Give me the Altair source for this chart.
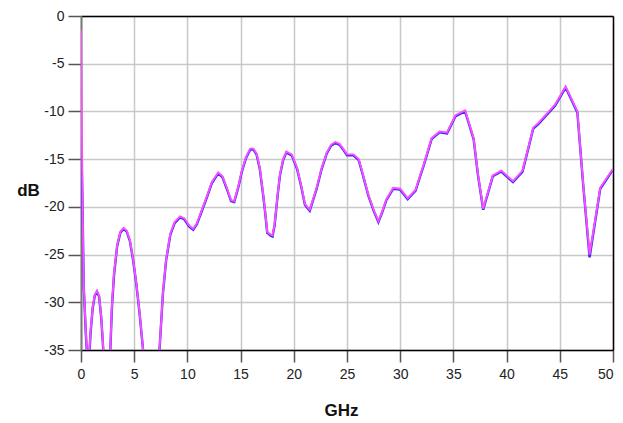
import altair as alt
import pandas as pd

freq = [0.0, 0.15, 0.25, 0.45, 0.65, 0.75, 0.9, 1.1, 1.3, 1.5, 1.7, 1.9, 2.05, 2.2, 2.5, 2.75,
        2.9, 3.1, 3.4, 3.7, 4.0, 4.3, 4.6, 4.9, 5.2, 5.5, 5.8, 6.0, 6.6, 7.2, 7.4, 7.7,
        8.0, 8.4, 8.8, 9.3, 9.7, 10.2, 10.55, 10.9, 11.4, 11.8, 12.3, 12.9, 13.3, 13.7,
        14.1, 14.4, 14.8, 15.1, 15.5, 15.9, 16.2, 16.5, 16.8, 17.1, 17.3, 17.5, 17.8, 18.0,
        18.2, 18.5, 18.7, 19.0, 19.3, 19.8, 20.3, 20.7, 21.05, 21.5, 22.15, 22.6, 23.1, 23.5,
        23.9, 24.3, 24.7, 25.0, 25.6, 26.1, 26.5, 27.0, 27.5, 27.95, 28.3, 28.7, 29.35, 30.0,
        30.7, 31.45, 31.9, 32.2, 32.95, 33.7, 34.4, 35.2, 36.1, 36.9, 37.3, 37.8, 38.7, 39.5,
        40.6, 41.5, 42.5, 43.0, 44.55, 45.55, 46.65, 47.2, 47.8, 48.8, 50.0]

s_magenta = [-1.5, -20.0, -28.0, -33.0, -37.0, -36.0, -33.0, -30.5, -29.2, -28.8, -29.3, -31.5, -34.0, -37.0, -40.0, -35.0,
             -30.5, -27.0, -24.0, -22.6, -22.2, -22.5, -23.5, -25.5, -28.0, -31.0, -34.5, -37.0, -45.0, -37.0, -34.5, -29.0,
             -25.5, -22.8, -21.6, -21.0, -21.2, -22.0, -22.3, -21.7, -20.2, -19.0, -17.4, -16.4, -16.8, -18.0,
             -19.3, -19.4, -17.8, -16.3, -14.8, -13.9, -13.9, -14.4, -15.9, -18.5, -20.4, -22.6, -22.9, -23.0,
             -21.8, -18.5, -16.6, -15.0, -14.2, -14.5, -15.9, -17.8, -19.7, -20.3, -18.0, -16.0, -14.3, -13.5,
             -13.2, -13.4, -14.0, -14.5, -14.5, -15.0, -16.6, -18.7, -20.3, -21.5, -20.5, -19.2, -18.0, -18.1,
             -19.1, -18.2, -16.6, -15.6, -12.8, -12.1, -12.2, -10.4, -9.9, -12.8, -16.5, -20.2, -16.7, -16.2,
             -17.3, -16.2, -11.7, -11.2, -9.3, -7.4, -10.0, -17.6, -25.0, -18.0, -16.0]

s_blue = [-11.8, -20.2, -28.2, -33.2, -37.2, -36.2, -33.2, -30.6, -29.3, -28.9, -29.4, -31.6, -34.2, -37.2, -40.0, -35.2,
          -30.7, -27.2, -24.1, -22.7, -22.3, -22.6, -23.6, -25.6, -28.1, -31.1, -34.6, -37.1, -45.0, -37.1, -34.6, -29.1,
          -25.6, -22.9, -21.7, -21.1, -21.3, -22.1, -22.4, -21.8, -20.3, -19.1, -17.5, -16.5, -16.9, -18.1,
          -19.4, -19.5, -17.9, -16.4, -14.9, -14.0, -14.0, -14.5, -16.0, -18.6, -20.5, -22.7, -23.0, -23.1,
          -21.9, -18.6, -16.7, -15.1, -14.3, -14.6, -16.0, -17.9, -19.8, -20.4, -18.1, -16.1, -14.4, -13.6,
          -13.3, -13.5, -14.1, -14.6, -14.6, -15.1, -16.7, -18.8, -20.4, -21.6, -20.6, -19.3, -18.1, -18.2,
          -19.2, -18.3, -16.7, -15.7, -12.9, -12.2, -12.3, -10.5, -10.0, -12.9, -16.6, -20.3, -16.8, -16.3,
          -17.4, -16.3, -11.8, -11.3, -9.4, -7.5, -10.1, -17.7, -25.3, -18.1, -16.1]

x_ticks = [0, 5, 10, 15, 20, 25, 30, 35, 40, 45, 50]
y_ticks = [0, -5, -10, -15, -20, -25, -30, -35]

df = pd.DataFrame({
    "f": freq + freq,
    "dB": s_blue + s_magenta,
    "series": ["blue"] * len(freq) + ["magenta"] * len(freq),
})

FONT = "Liberation Sans"

xscale = alt.Scale(domain=[0, 50], nice=False, zero=False)
yscale = alt.Scale(domain=[-35, 0], nice=False, zero=False)

base = alt.Chart(df)

blue = base.transform_filter(alt.datum.series == "blue").mark_line(
    color="#2a2aff", strokeWidth=2.4, clip=True
).encode(
    x=alt.X("f:Q", scale=xscale, axis=alt.Axis(
        values=x_ticks, title="GHz", grid=True, gridColor="#c8c8c8", gridWidth=1.5,
        domainColor="#000000", domainWidth=1.5, tickColor="#555555", tickSize=12, tickWidth=1.5,
        labelFont=FONT, labelFontSize=14, labelColor="#222222", labelPadding=5,
        labelAlign=alt.expr("datum.value == 50 ? 'right' : 'center'"),
        titleFont=FONT, titleFontSize=17, titleFontWeight="bold", titleColor="#111111",
        titleX=260, titleY=60, titleBaseline="middle")),
    y=alt.Y("dB:Q", scale=yscale, axis=alt.Axis(
        values=y_ticks, title="dB", grid=True, gridColor="#c8c8c8", gridWidth=1.5,
        labelExpr="toString(datum.value)",
        domainColor="#7a7a7a", domainWidth=2, tickColor="#555555", tickSize=13, tickWidth=1.5,
        labelFont=FONT, labelFontSize=14, labelColor="#222222", labelPadding=4,
        titleFont=FONT, titleFontSize=17, titleFontWeight="bold", titleColor="#111111",
        titleAngle=0, titleX=-53, titleY=174, titleAlign="center", titleBaseline="middle")),
)

magenta = base.transform_filter(alt.datum.series == "magenta").mark_line(
    color="#ff4cff", strokeWidth=1.9, clip=True
).encode(
    x=alt.X("f:Q", scale=xscale, axis=None),
    y=alt.Y("dB:Q", scale=yscale, axis=None),
)

frame = base.transform_filter(alt.datum.series == "magenta").mark_line(opacity=0).encode(
    x=alt.X("f:Q", scale=xscale, axis=alt.Axis(orient="top", values=x_ticks, labels=False, ticks=False,
                                                grid=False, title=None, domainColor="#000000", domainWidth=1.5)),
    y=alt.Y("dB:Q", scale=yscale, axis=alt.Axis(orient="right", values=y_ticks, labels=False, ticks=False,
                                                 grid=False, title=None, domainColor="#000000", domainWidth=1.5)),
)

chart = alt.layer(frame, blue, magenta).resolve_axis(x="independent", y="independent").properties(
    width=532, height=334,
    autosize=alt.AutoSizeParams(type="none"),
    padding={"left": 73, "top": 8, "right": 2, "bottom": 70},
).configure_view(stroke=None).configure(background="white")

chart.save("out.html", embed_options={"renderer": "svg", "actions": False})
